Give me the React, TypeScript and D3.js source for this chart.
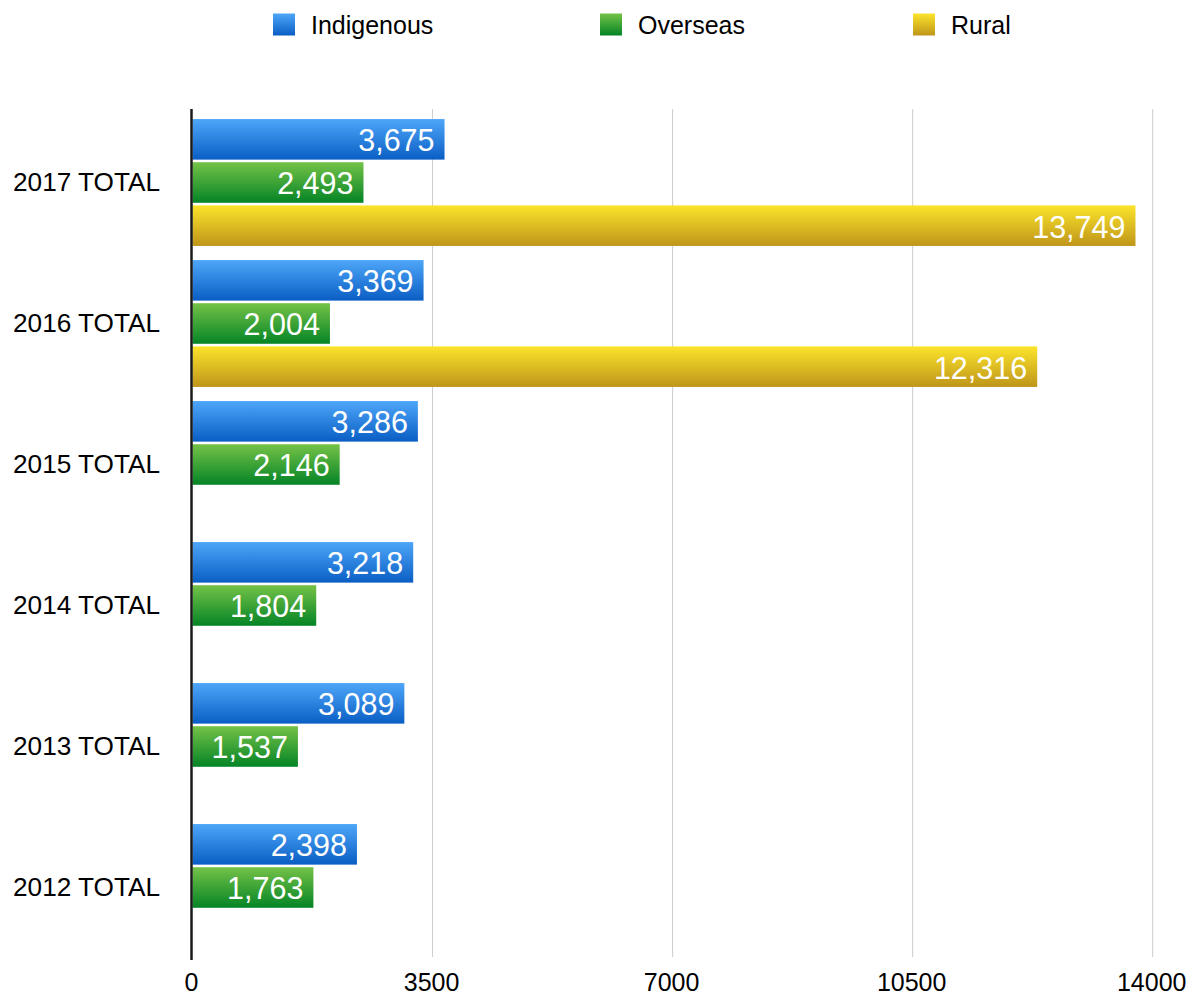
import React from "react";
import * as d3 from "d3";

const categories = ["2017 TOTAL", "2016 TOTAL", "2015 TOTAL", "2014 TOTAL", "2013 TOTAL", "2012 TOTAL"];
const seriesNames = ["Indigenous", "Overseas", "Rural"];
const indigenous = [3675, 3369, 3286, 3218, 3089, 2398];
const overseas = [2493, 2004, 2146, 1804, 1537, 1763];
const rural: (number | null)[] = [13749, 12316, null, null, null, null];
const xTicks = [0, 3500, 7000, 10500, 14000];

const seriesValues = [indigenous, overseas, rural];
const gradients = [
  { id: "gBlue", top: "#4ea6f8", bottom: "#0a5ec4" },
  { id: "gGreen", top: "#74c247", bottom: "#058426" },
  { id: "gYellow", top: "#fbe42b", bottom: "#bf951a" },
];
const legendX = [273, 600, 913];

const W = 1202;
const H = 999;
const FONT = "'Liberation Sans', Arial, Helvetica, sans-serif";

export default function App() {
  const x = d3.scaleLinear().domain([0, 14000]).range([192.5, 1152.7]);
  const y = d3
    .scaleBand<string>()
    .domain(categories)
    .range([112, 958])
    .paddingInner(0.1)
    .paddingOuter(0.05);
  const sub = d3
    .scaleBand<string>()
    .domain(seriesNames)
    .range([0, y.bandwidth()])
    .paddingInner(0.06);
  const fmt = d3.format(",");

  return (
    <svg
      width={W}
      height={H}
      style={{ position: "absolute", left: 0, top: 0, background: "#fff" }}
      fontFamily={FONT}
    >
      <defs>
        {gradients.map((g) => (
          <linearGradient key={g.id} id={g.id} x1="0" y1="0" x2="0" y2="1">
            <stop offset="0%" stopColor={g.top} />
            <stop offset="100%" stopColor={g.bottom} />
          </linearGradient>
        ))}
      </defs>

      {/* Legend */}
      {seriesNames.map((s, i) => (
        <g key={s}>
          <rect x={legendX[i]} y={13.5} width={22} height={22} fill={`url(#${gradients[i].id})`} />
          <text x={legendX[i] + 38} y={34} fontSize={25} fill="#000">
            {s}
          </text>
        </g>
      ))}

      {/* Gridlines */}
      {xTicks.slice(1).map((t) => (
        <line key={t} x1={x(t)} x2={x(t)} y1={109} y2={957} stroke="#cccccc" strokeWidth={1} />
      ))}

      {/* Bars */}
      {categories.map((c, ci) => (
        <g key={c}>
          {seriesNames.map((s, si) => {
            const v = seriesValues[si][ci];
            if (v == null) return null;
            const by = (y(c) as number) + (sub(s) as number);
            const bh = sub.bandwidth();
            return (
              <g key={s}>
                <rect x={x(0)} y={by} width={x(v) - x(0)} height={bh} fill={`url(#${gradients[si].id})`} />
                <text
                  x={x(v) - 10}
                  y={by + bh - 8.3}
                  fontSize={30.5}
                  fill="#fff"
                  textAnchor="end"
                >
                  {fmt(v)}
                </text>
              </g>
            );
          })}
        </g>
      ))}

      {/* Category labels */}
      {categories.map((c) => (
        <text
          key={c}
          x={13}
          y={(y(c) as number) + y.bandwidth() / 2 + 8}
          fontSize={26.2}
          fill="#000"
        >
          {c}
        </text>
      ))}

      {/* Axis line */}
      <line x1={191.5} x2={191.5} y1={109} y2={960} stroke="#1a1a1a" strokeWidth={2.5} />

      {/* X tick labels */}
      {xTicks.map((t) => (
        <text key={t} x={x(t) - 1} y={991} fontSize={25} textAnchor="middle" fill="#000">
          {t}
        </text>
      ))}
    </svg>
  );
}
